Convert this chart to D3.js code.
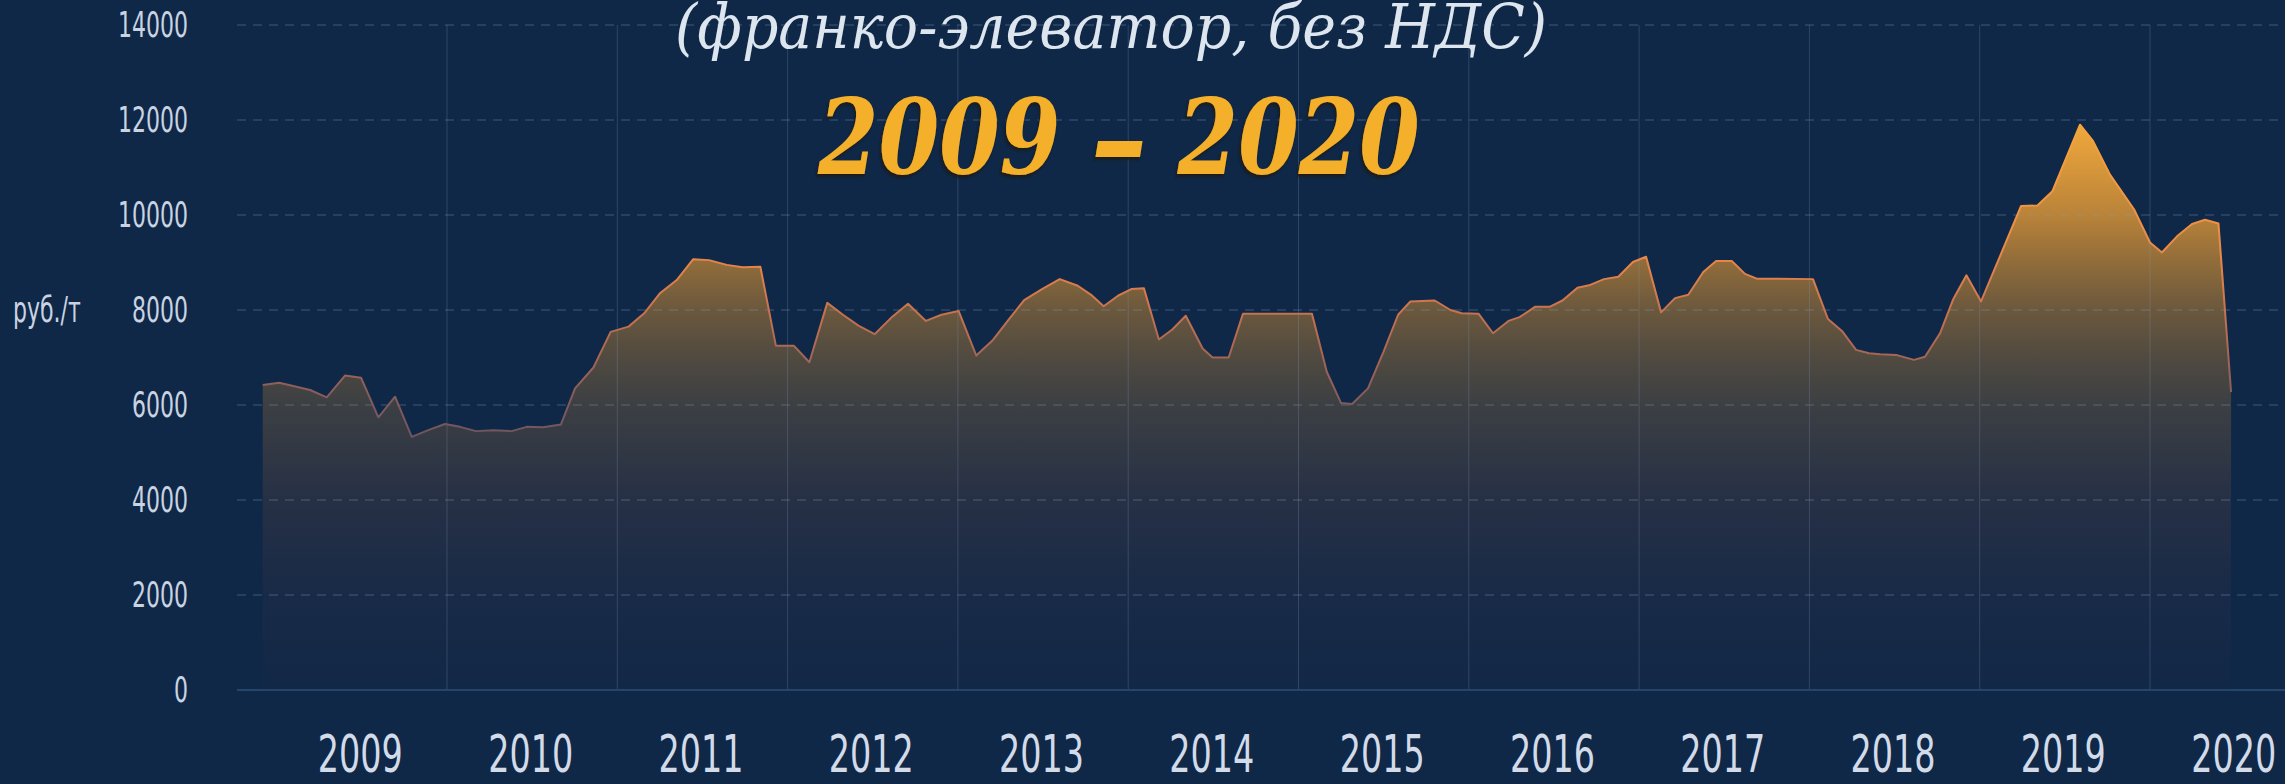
<!DOCTYPE html>
<html>
<head>
<meta charset="utf-8">
<script src="https://cdn.jsdelivr.net/npm/d3@7/dist/d3.min.js"></script>
<style>
  html, body { margin: 0; padding: 0; background: #0f2848; overflow: hidden; }
  svg { display: block; }
</style>
</head>
<body>
<svg id="chart" width="2285" height="784"></svg>
<script>
// ---- DATA ----
const dates = [
  2008.918, 2009.015, 2009.097, 2009.196, 2009.294, 2009.401, 2009.495, 2009.597, 2009.695, 2009.793, 2009.890, 2009.988,
  2010.076, 2010.170, 2010.272, 2010.380, 2010.468, 2010.565, 2010.669, 2010.752, 2010.860, 2010.961,
  2011.066, 2011.158, 2011.250, 2011.349, 2011.446, 2011.538, 2011.643, 2011.735, 2011.840, 2011.931,
  2012.036, 2012.128, 2012.233, 2012.325, 2012.416, 2012.511, 2012.615, 2012.707, 2012.812, 2012.904,
  2013.004, 2013.108, 2013.206, 2013.297, 2013.389, 2013.494, 2013.598, 2013.704, 2013.782, 2013.856, 2013.940,
  2014.018, 2014.092, 2014.180, 2014.259, 2014.338, 2014.437, 2014.495, 2014.590, 2014.674,
  2015.079, 2015.166, 2015.250, 2015.315, 2015.408, 2015.499, 2015.585, 2015.657, 2015.800, 2015.892, 2015.958,
  2016.058, 2016.142, 2016.233, 2016.298, 2016.391, 2016.477, 2016.550, 2016.638, 2016.706, 2016.794, 2016.878, 2016.964,
  2017.041, 2017.129, 2017.211, 2017.289, 2017.377, 2017.452, 2017.544, 2017.622, 2017.691,
  2018.021, 2018.109, 2018.191, 2018.274, 2018.350, 2018.415, 2018.509, 2018.614, 2018.679, 2018.767, 2018.843, 2018.922,
  2019.008, 2019.243, 2019.339, 2019.427, 2019.589, 2019.665, 2019.765, 2019.906,
  2020.000, 2020.070, 2020.164, 2020.247, 2020.323, 2020.402, 2020.476
];
const prices = [
  6420, 6470, 6400, 6315, 6160, 6620, 6575, 5740, 6175, 5330, 5470, 5600,
  5540, 5450, 5470, 5450, 5540, 5530, 5590, 6350, 6790, 7540,
  7650, 7930, 8350, 8630, 9070, 9050, 8950, 8900, 8910, 7250,
  7250, 6900, 8150, 7900, 7670, 7490, 7860, 8130, 7770, 7900,
  7980, 7040, 7370, 7790, 8210, 8440, 8650, 8510, 8320, 8080, 8300,
  8440, 8460, 7380, 7590, 7880, 7190, 7000, 7000, 7920,
  7920, 6700, 6040, 6020, 6350, 7120, 7900, 8180, 8200, 8000, 7930,
  7920, 7510, 7770, 7850, 8070, 8070, 8200, 8470, 8520, 8650, 8700, 9010,
  9120, 7950, 8250, 8320, 8800, 9030, 9030, 8760, 8660,
  8650, 7810, 7560, 7160, 7090, 7070, 7055, 6950, 7015, 7510, 8215, 8730,
  8180, 10190, 10200, 10500, 11900, 11560, 10850, 10120,
  9420, 9210, 9570, 9810, 9900, 9820, 6270
];
const yearLabels = [2009, 2010, 2011, 2012, 2013, 2014, 2015, 2016, 2017, 2018, 2019, 2020];
const yearLines = [2010, 2011, 2012, 2013, 2014, 2015, 2016, 2017, 2018, 2019, 2020];
const yTicks = [0, 2000, 4000, 6000, 8000, 10000, 12000, 14000];
const unitLabel = "руб./т";
const subtitle = "(франко-элеватор, без НДС)";
const titleParts = ["2009 ", "–", " 2020"];

// ---- LAYOUT ----
const W = 2285, H = 784;
const gridLeft = 237;
const svg = d3.select("#chart");

const x = d3.scaleLinear().domain([2009, 2021]).range([276.7, 2320.3]);
const y = d3.scaleLinear().domain([0, 14000]).range([690, 25]);

const data = dates.map((t, i) => ({ t, v: prices[i] }));

svg.append("rect").attr("width", W).attr("height", H).attr("fill", "#0f2848");

const defs = svg.append("defs");
const fillStops = [
  [12000, "#f4aa3c"], [10000, "#b98339"], [9000, "#906c3a"], [8000, "#6b583d"],
  [7000, "#504a40"], [6000, "#3c3f43"], [4000, "#263045"], [2000, "#182a47"], [0, "#122847"]
];
const fg = defs.append("linearGradient").attr("id", "fillGrad")
  .attr("gradientUnits", "userSpaceOnUse")
  .attr("x1", 0).attr("x2", 0).attr("y1", y(12000)).attr("y2", y(0));
fg.selectAll("stop").data(fillStops).join("stop")
  .attr("offset", d => (y(d[0]) - y(12000)) / (y(0) - y(12000)))
  .attr("stop-color", d => d[1]);

const strokeStops = [
  [12000, "#f6a53a"], [10000, "#ef9244"], [9000, "#e6854a"], [8000, "#c9734e"],
  [7000, "#a36556"], [6000, "#7e5a5d"], [5000, "#675262"], [0, "#4a4560"]
];
const sg = defs.append("linearGradient").attr("id", "strokeGrad")
  .attr("gradientUnits", "userSpaceOnUse")
  .attr("x1", 0).attr("x2", 0).attr("y1", y(12000)).attr("y2", y(0));
sg.selectAll("stop").data(strokeStops).join("stop")
  .attr("offset", d => (y(d[0]) - y(12000)) / (y(0) - y(12000)))
  .attr("stop-color", d => d[1]);

const shadow = defs.append("filter").attr("id", "titleShadow")
  .attr("x", "-10%").attr("y", "-10%").attr("width", "120%").attr("height", "130%");
shadow.append("feDropShadow").attr("dx", -1.5).attr("dy", 2.5).attr("stdDeviation", 1)
  .attr("flood-color", "#1a1408").attr("flood-opacity", 0.85);

// ---- AREA ----
const area = d3.area().x(d => x(d.t)).y0(y(0)).y1(d => y(d.v));
const line = d3.line().x(d => x(d.t)).y(d => y(d.v));
svg.append("path").datum(data).attr("d", area).attr("fill", "url(#fillGrad)");

// ---- GRID ----
const grid = svg.append("g");
grid.selectAll("line.h").data(yTicks.filter(v => v > 0)).join("line")
  .attr("class", "h")
  .attr("x1", gridLeft).attr("x2", W)
  .attr("y1", d => y(d)).attr("y2", d => y(d))
  .attr("stroke", "#8aa0c0").attr("stroke-opacity", 0.28)
  .attr("stroke-width", 1.5).attr("stroke-dasharray", "9,7");
grid.selectAll("line.v").data(yearLines).join("line")
  .attr("class", "v")
  .attr("x1", d => x(d)).attr("x2", d => x(d))
  .attr("y1", y(14000)).attr("y2", y(0))
  .attr("stroke", "#8aa0c0").attr("stroke-opacity", 0.25).attr("stroke-width", 1);
grid.append("line")
  .attr("x1", gridLeft).attr("x2", W).attr("y1", y(0)).attr("y2", y(0))
  .attr("stroke", "#26456a").attr("stroke-width", 2);

// ---- LINE ----
svg.append("path").datum(data).attr("d", line)
  .attr("fill", "none").attr("stroke", "url(#strokeGrad)")
  .attr("stroke-width", 2).attr("stroke-linejoin", "round");

// ---- AXES ----
const labelFont = "'Liberation Sans Narrow', 'DejaVu Sans Condensed', 'Roboto', sans-serif";
function widthOf(sel, txt) {
  const n = sel.filter(function(){ return this.textContent === txt; }).node();
  return n ? n.getComputedTextLength() : 0;
}

const yPad = 49;
const yAxis = svg.append("g").attr("transform", `translate(${gridLeft},0)`)
  .call(d3.axisLeft(y).tickValues(yTicks).tickSize(0).tickPadding(yPad).tickFormat(d3.format("d")));
yAxis.select(".domain").remove();
const yText = yAxis.selectAll("text")
  .attr("font-family", labelFont).attr("font-size", 36).attr("fill", "#c9d3e2");
const wy = widthOf(yText, "14000");
const sxY = wy > 0 ? 70 / wy : 1;
yText.attr("x", 0).attr("transform", `translate(${-yPad},0) scale(${sxY},1)`);

const xAxis = svg.append("g").attr("transform", `translate(-2,${y(0)})`)
  .call(d3.axisBottom(x).tickValues(yearLabels.map(d => d + 0.5)).tickSize(0).tickPadding(45)
    .tickFormat(d => String(Math.floor(d))));
xAxis.select(".domain").remove();
const xText = xAxis.selectAll("text")
  .attr("font-family", labelFont).attr("font-size", 52).attr("fill", "#d3dbe9");
const wx = widthOf(xText, "2009");
const sxX = wx > 0 ? 85 / wx : 1;
xText.attr("transform", `scale(${sxX},1)`);

const unitX = 13;
svg.append("text")
  .attr("font-family", labelFont).attr("font-size", 36).attr("fill", "#c9d3e2")
  .attr("x", 0).attr("y", 0).attr("dy", "0.32em").text(unitLabel)
  .attr("transform", `translate(${unitX},${y(8000)}) scale(${sxY},1)`);

// ---- TITLES ----
function placeStretched(sel, cx, by, targetW, sy) {
  const w = sel.node().getComputedTextLength();
  const sx = w > 0 ? targetW / w : 1;
  sel.attr("x", 0).attr("y", 0)
    .attr("transform", `translate(${cx},${by}) scale(${sx},${sy})`);
}

const sub = svg.append("text")
  .attr("text-anchor", "middle")
  .attr("font-family", "'DejaVu Serif', 'Liberation Serif', serif")
  .attr("font-style", "italic").attr("font-size", 53).attr("fill", "#dde5ef")
  .text(subtitle);
placeStretched(sub, 1111, 48, 872, 1.16);

const tfs = 96;
const ttl = svg.append("text")
  .attr("text-anchor", "middle")
  .attr("font-family", "'DejaVu Serif', 'Liberation Serif', serif")
  .attr("font-style", "italic").attr("font-weight", "bold").attr("font-size", tfs)
  .attr("fill", "#f4b02b").attr("filter", "url(#titleShadow)");
ttl.append("tspan").text(titleParts[0]);
ttl.append("tspan").attr("font-size", tfs * 1.3).attr("dy", tfs * 0.1).text(titleParts[1]);
ttl.append("tspan").attr("dy", -tfs * 0.1).text(titleParts[2]);
placeStretched(ttl, 1119, 174, 602, 1.1);
</script>
</body>
</html>
